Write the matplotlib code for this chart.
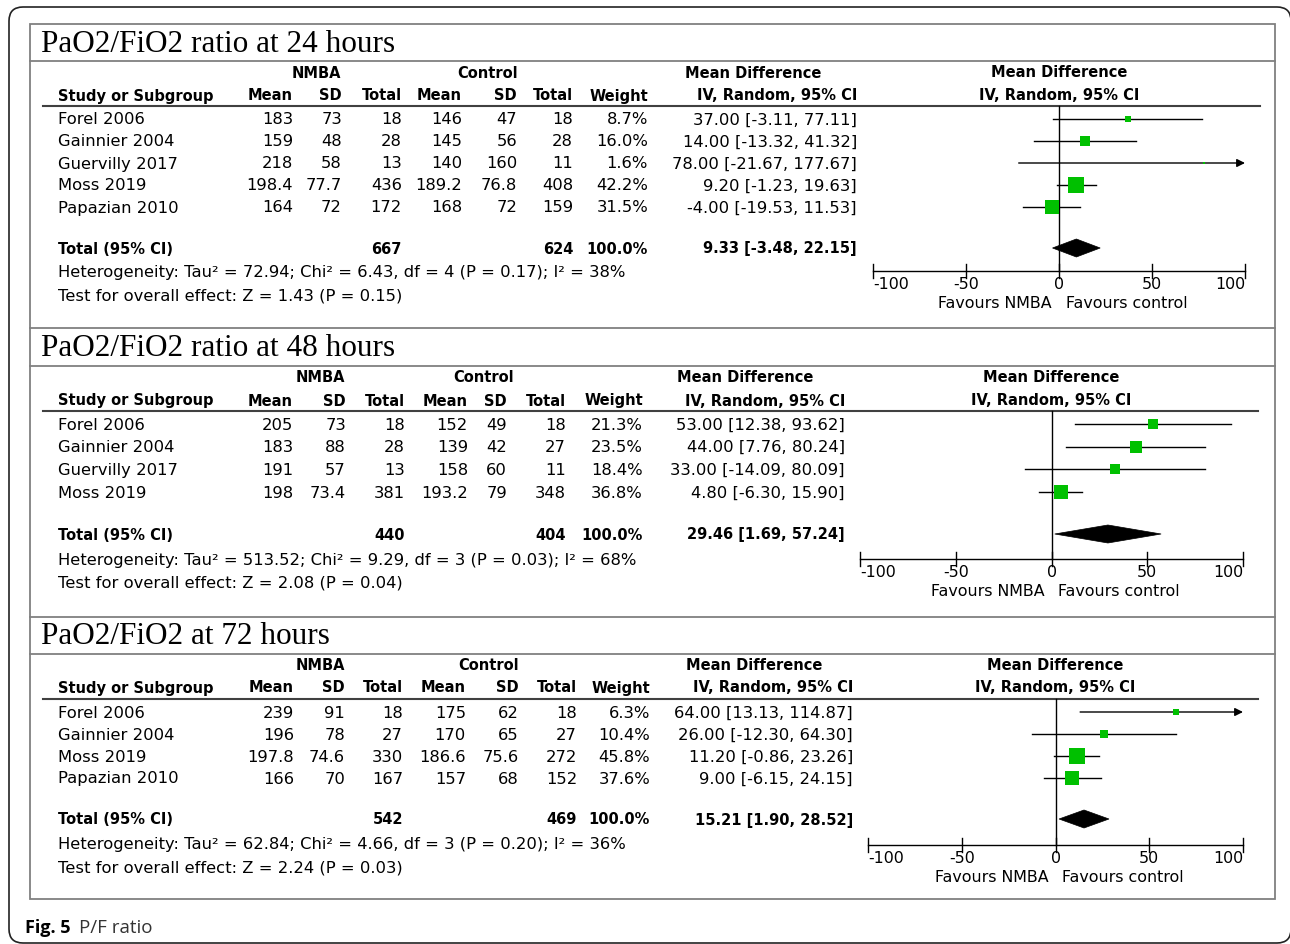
import matplotlib
matplotlib.use("Agg")
import matplotlib.pyplot as plt
from matplotlib.patches import Polygon, Rectangle, FancyBboxPatch

W, H, DPI = 1290, 945, 100

# ---------------- PaO2/FiO2 ratio at 24 hours ----------------
studies_24 = ["Forel 2006", "Gainnier 2004", "Guervilly 2017", "Moss 2019", "Papazian 2010"]
nmba_mean_24 = [183, 159, 218, 198.4, 164]
nmba_sd_24 = [73, 48, 58, 77.7, 72]
nmba_n_24 = [18, 28, 13, 436, 172]
ctrl_mean_24 = [146, 145, 140, 189.2, 168]
ctrl_sd_24 = [47, 56, 160, 76.8, 72]
ctrl_n_24 = [18, 28, 11, 408, 159]
weight_24 = [8.7, 16.0, 1.6, 42.2, 31.5]
md_24 = [37.00, 14.00, 78.00, 9.20, -4.00]
lo_24 = [-3.11, -13.32, -21.67, -1.23, -19.53]
hi_24 = [77.11, 41.32, 177.67, 19.63, 11.53]
pooled_24 = [9.33, -3.48, 22.15]
het_24 = "Heterogeneity: Tau² = 72.94; Chi² = 6.43, df = 4 (P = 0.17); I² = 38%"
test_24 = "Test for overall effect: Z = 1.43 (P = 0.15)"

# ---------------- PaO2/FiO2 ratio at 48 hours ----------------
studies_48 = ["Forel 2006", "Gainnier 2004", "Guervilly 2017", "Moss 2019"]
nmba_mean_48 = [205, 183, 191, 198]
nmba_sd_48 = [73, 88, 57, 73.4]
nmba_n_48 = [18, 28, 13, 381]
ctrl_mean_48 = [152, 139, 158, 193.2]
ctrl_sd_48 = [49, 42, 60, 79]
ctrl_n_48 = [18, 27, 11, 348]
weight_48 = [21.3, 23.5, 18.4, 36.8]
md_48 = [53.00, 44.00, 33.00, 4.80]
lo_48 = [12.38, 7.76, -14.09, -6.30]
hi_48 = [93.62, 80.24, 80.09, 15.90]
pooled_48 = [29.46, 1.69, 57.24]
het_48 = "Heterogeneity: Tau² = 513.52; Chi² = 9.29, df = 3 (P = 0.03); I² = 68%"
test_48 = "Test for overall effect: Z = 2.08 (P = 0.04)"

# ---------------- PaO2/FiO2 at 72 hours ----------------
studies_72 = ["Forel 2006", "Gainnier 2004", "Moss 2019", "Papazian 2010"]
nmba_mean_72 = [239, 196, 197.8, 166]
nmba_sd_72 = [91, 78, 74.6, 70]
nmba_n_72 = [18, 27, 330, 167]
ctrl_mean_72 = [175, 170, 186.6, 157]
ctrl_sd_72 = [62, 65, 75.6, 68]
ctrl_n_72 = [18, 27, 272, 152]
weight_72 = [6.3, 10.4, 45.8, 37.6]
md_72 = [64.00, 26.00, 11.20, 9.00]
lo_72 = [13.13, -12.30, -0.86, -6.15]
hi_72 = [114.87, 64.30, 23.26, 24.15]
pooled_72 = [15.21, 1.90, 28.52]
het_72 = "Heterogeneity: Tau² = 62.84; Chi² = 4.66, df = 3 (P = 0.20); I² = 36%"
test_72 = "Test for overall effect: Z = 2.24 (P = 0.03)"

titles = ["PaO2/FiO2 ratio at 24 hours", "PaO2/FiO2 ratio at 48 hours", "PaO2/FiO2 at 72 hours"]
axis_ticks = [-100, -50, 0, 50, 100]
total_weight = 100.0

panels = [
    dict(studies=studies_24, nm=nmba_mean_24, nsd=nmba_sd_24, nn=nmba_n_24,
         cm=ctrl_mean_24, csd=ctrl_sd_24, cn=ctrl_n_24, w=weight_24,
         md=md_24, lo=lo_24, hi=hi_24, pooled=pooled_24, het=het_24, test=test_24),
    dict(studies=studies_48, nm=nmba_mean_48, nsd=nmba_sd_48, nn=nmba_n_48,
         cm=ctrl_mean_48, csd=ctrl_sd_48, cn=ctrl_n_48, w=weight_48,
         md=md_48, lo=lo_48, hi=hi_48, pooled=pooled_48, het=het_48, test=test_48),
    dict(studies=studies_72, nm=nmba_mean_72, nsd=nmba_sd_72, nn=nmba_n_72,
         cm=ctrl_mean_72, csd=ctrl_sd_72, cn=ctrl_n_72, w=weight_72,
         md=md_72, lo=lo_72, hi=hi_72, pooled=pooled_72, het=het_72, test=test_72),
]

# page geometry (pixels, y downwards)
layouts = [
    dict(title_y=44, group_y=73, head_y=96, rule_y=107, row0=120, step=22.0,
         total_y=249, het_y=273, test_y=296, axis_y=272,
         cols=[293, 342, 402, 462, 517, 573, 648], md_right=857,
         nmba_c=316, ctrl_c=488, mdh_c=753, x_lo=873, x_hi=1245, rule_end=1260),
    dict(title_y=349, group_y=378, head_y=401, rule_y=412, row0=425, step=22.7,
         total_y=535, het_y=560, test_y=583, axis_y=560,
         cols=[293, 346, 405, 468, 507, 566, 643], md_right=845,
         nmba_c=320, ctrl_c=484, mdh_c=745, x_lo=860, x_hi=1243, rule_end=1258),
    dict(title_y=637, group_y=666, head_y=688, rule_y=700, row0=713, step=22.0,
         total_y=820, het_y=845, test_y=868, axis_y=846,
         cols=[294, 345, 403, 466, 519, 577, 650], md_right=853,
         nmba_c=320, ctrl_c=489, mdh_c=754, x_lo=868, x_hi=1243, rule_end=1258),
]
title_rules = [62, 367, 655]
panel_seps = [329, 618]

SANS = "DejaVu Sans"
FS = 11.8      # regular table text
FSB = 10.5     # bold headers
GREEN = "#00c000"

fig = plt.figure(figsize=(W / DPI, H / DPI), dpi=DPI)
bg = fig.add_axes([0, 0, 1, 1])
bg.set_xlim(0, W)
bg.set_ylim(H, 0)
bg.axis("off")


def txt(ax, x, y, s, ha="left", bold=False, size=None, family=SANS, **kw):
    if size is None:
        size = FSB if bold else FS
    ax.text(x, y, s, ha=ha, va="center", fontsize=size, family=family,
            fontweight="bold" if bold else "normal", clip_on=False,
            **({"color": "black"} | kw))


def fmt(v):
    return f"{v:g}"


# outer rounded frame and inner box
bg.add_patch(FancyBboxPatch((9, 8), 1282, 936, boxstyle="round,pad=0,rounding_size=14",
                            fc="none", ec="#222222", lw=1.2))
bg.add_patch(Rectangle((30, 25), 1245, 875, fc="none", ec="#808080", lw=1.3))
for y in title_rules + panel_seps:
    bg.plot([30, 1275], [y, y], color="#808080", lw=1.3)

for title, p, L in zip(titles, panels, layouts):
    # title
    txt(bg, 41, L["title_y"], title, size=22.5, family="Liberation Serif")
    # column headers
    txt(bg, L["nmba_c"], L["group_y"], "NMBA", ha="center", bold=True)
    txt(bg, L["ctrl_c"], L["group_y"], "Control", ha="center", bold=True)
    txt(bg, L["mdh_c"], L["group_y"], "Mean Difference", ha="center", bold=True)
    txt(bg, 58, L["head_y"], "Study or Subgroup", bold=True)
    heads = ["Mean", "SD", "Total", "Mean", "SD", "Total", "Weight"]
    for h, x in zip(heads, L["cols"]):
        txt(bg, x, L["head_y"], h, ha="right", bold=True)
    txt(bg, L["md_right"], L["head_y"], "IV, Random, 95% CI", ha="right", bold=True)
    bg.plot([43, L["rule_end"]], [L["rule_y"], L["rule_y"]], color="#404040", lw=1.5)

    # study rows
    rows_y = [L["row0"] + i * L["step"] for i in range(len(p["studies"]))]
    for i, y in enumerate(rows_y):
        txt(bg, 58, y, p["studies"][i])
        vals = [fmt(p["nm"][i]), fmt(p["nsd"][i]), str(p["nn"][i]),
                fmt(p["cm"][i]), fmt(p["csd"][i]), str(p["cn"][i]),
                f"{p['w'][i]:.1f}%"]
        for v, x in zip(vals, L["cols"]):
            txt(bg, x, y, v, ha="right")
        txt(bg, L["md_right"], y,
            f"{p['md'][i]:.2f} [{p['lo'][i]:.2f}, {p['hi'][i]:.2f}]", ha="right")

    # totals
    ty = L["total_y"]
    txt(bg, 58, ty, "Total (95% CI)", bold=True)
    txt(bg, L["cols"][2], ty, str(sum(p["nn"])), ha="right", bold=True)
    txt(bg, L["cols"][5], ty, str(sum(p["cn"])), ha="right", bold=True)
    txt(bg, L["cols"][6], ty, f"{total_weight:.1f}%", ha="right", bold=True)
    pm, plo, phi = p["pooled"]
    txt(bg, L["md_right"], ty, f"{pm:.2f} [{plo:.2f}, {phi:.2f}]", ha="right", bold=True)
    txt(bg, 58, L["het_y"], p["het"])
    txt(bg, 58, L["test_y"], p["test"])

    # forest plot axes: x in mean-difference units, y in page pixels
    ax = fig.add_axes([L["x_lo"] / W, 1 - L["axis_y"] / H,
                       (L["x_hi"] - L["x_lo"]) / W, (L["axis_y"] - L["rule_y"]) / H])
    ax.set_xlim(-100, 100)
    ax.set_ylim(L["axis_y"], L["rule_y"])
    ax.axis("off")
    ax.patch.set_alpha(0)

    txt(ax, 0, L["group_y"], "Mean Difference", ha="center", bold=True)
    txt(ax, 0, L["head_y"], "IV, Random, 95% CI", ha="center", bold=True)

    ax.plot([0, 0], [L["rule_y"], L["axis_y"]], color="black", lw=1.0, clip_on=False)
    for i, y in enumerate(rows_y):
        lo, hi, m, w = p["lo"][i], p["hi"][i], p["md"][i], p["w"][i]
        a, b = max(lo, -100), min(hi, 100)
        if hi > 100:
            ax.annotate("", xy=(100, y), xytext=(a, y),
                        arrowprops=dict(arrowstyle="-|>", color="black", lw=1.0,
                                        mutation_scale=12, shrinkA=0, shrinkB=0))
        else:
            ax.plot([a, b], [y, y], color="black", lw=1.0, clip_on=False)
        side_px = 2.35 * w ** 0.5
        ax.plot([m], [y], marker="s", ms=side_px * 72 / DPI, color=GREEN,
                mec=GREEN, mew=0, clip_on=False, zorder=3)
    ax.add_patch(Polygon([(plo, ty), (pm, ty - 9), (phi, ty), (pm, ty + 9)],
                         closed=True, fc="black", ec="black", lw=0.5, clip_on=False))

    ay = L["axis_y"]
    ax.plot([-100, 100], [ay, ay], color="black", lw=1.0, clip_on=False)
    for v in axis_ticks:
        ax.plot([v, v], [ay - 7, ay + 7], color="black", lw=1.0, clip_on=False)
        ha = "left" if v == axis_ticks[0] else ("right" if v == axis_ticks[-1] else "center")
        txt(ax, v, ay + 13, f"{v}", ha=ha, size=11.4)
    txt(ax, -3.8, ay + 32, "Favours NMBA", ha="right", size=11.4)
    txt(ax, 3.5, ay + 32, "Favours control", ha="left", size=11.4)

# caption
txt(bg, 25, 928, "Fig. 5", bold=True, size=13, family="Open Sans")
txt(bg, 79, 928, "P/F ratio", size=13.5, family="Open Sans", color="#333333")

fig.savefig("out.png", dpi=DPI)
